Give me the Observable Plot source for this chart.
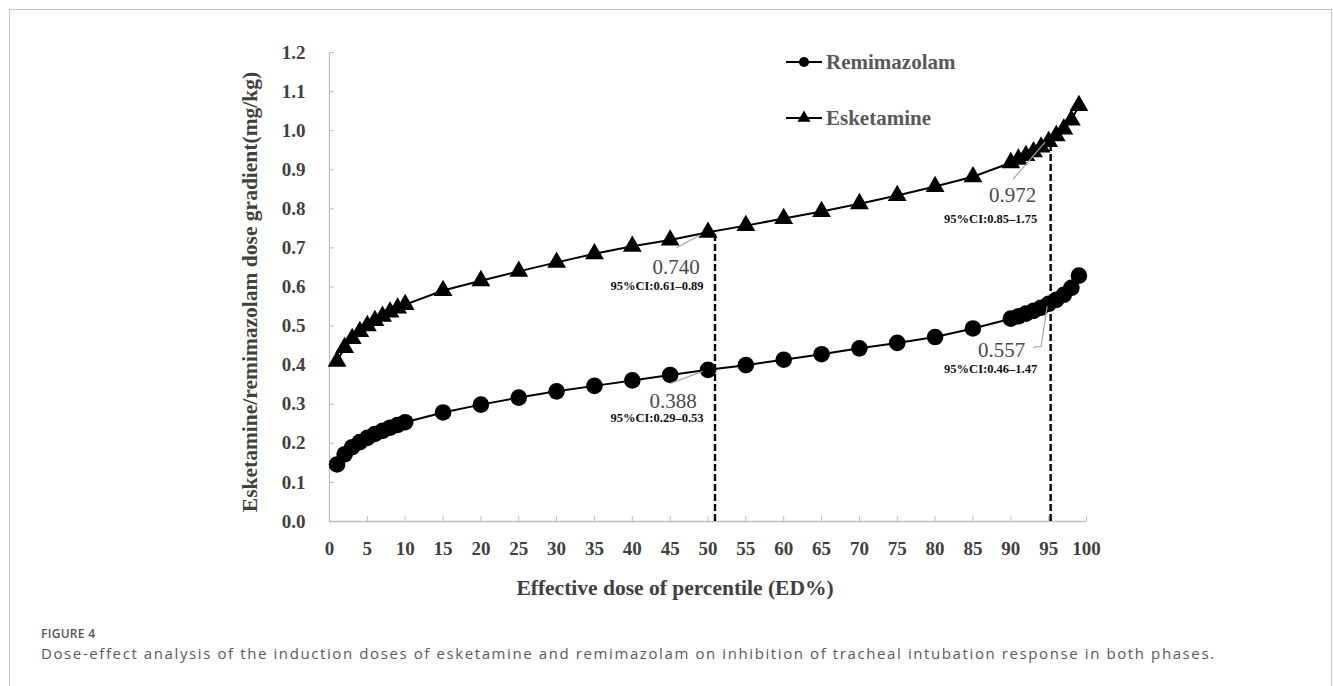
<!DOCTYPE html>
<html>
<head>
<meta charset="utf-8">
<script src="https://cdn.jsdelivr.net/npm/d3@7"></script>
<script src="https://cdn.jsdelivr.net/npm/@observablehq/plot@0.6"></script>
<style>
  html, body { margin: 0; background: #fff; }
  #page { position: relative; width: 1333px; height: 686px; overflow: hidden; }
  #frame { position: absolute; left: 9px; top: 9px; width: 1323px; height: 740px; box-sizing: border-box; border: 1px solid #c6c6c6; }
  #chart, #legend { position: absolute; left: 0; top: 0; }
  #caption { position: absolute; left: 41px; top: 625px; font-family: "Open Sans", sans-serif; color: #555; }
  #caption .fig { font-size: 12px; font-weight: 600; line-height: 18px; letter-spacing: 0.3px; }
  #caption .desc { font-size: 15px; line-height: 20px; letter-spacing: 1.6px; color: #5a5a5a; }
</style>
</head>
<body>
<div id="page">
  <div id="frame"></div>
  <div id="chart"></div>
  <svg id="legend" width="1333" height="160"></svg>
  <div id="caption">
    <div class="fig">FIGURE 4</div>
    <div class="desc">Dose-effect analysis of the induction doses of esketamine and remimazolam on inhibition of tracheal intubation response in both phases.</div>
  </div>
</div>
<script>
// Effective-dose percentiles (ED%) at which the probit curves are evaluated
const percentiles = [1, 2, 3, 4, 5, 6, 7, 8, 9, 10,
  15, 20, 25, 30, 35, 40, 45, 50, 55, 60, 65, 70, 75, 80, 85,
  90, 91, 92, 93, 94, 95, 96, 97, 98, 99];

// Dose gradient (mg/kg) for each percentile
const remimazolamDose = [0.146, 0.172, 0.190, 0.203, 0.214, 0.224, 0.232, 0.240, 0.247, 0.254,
  0.279, 0.299, 0.317, 0.333, 0.347, 0.361, 0.375, 0.388, 0.400, 0.414, 0.428, 0.443, 0.457, 0.472, 0.494,
  0.519, 0.525, 0.532, 0.539, 0.547, 0.557, 0.567, 0.580, 0.598, 0.629];
const esketamineDose = [0.410, 0.445, 0.468, 0.486, 0.501, 0.514, 0.525, 0.536, 0.546, 0.555,
  0.591, 0.616, 0.640, 0.663, 0.685, 0.704, 0.720, 0.740, 0.757, 0.775, 0.793, 0.813, 0.834, 0.857, 0.882,
  0.918, 0.927, 0.936, 0.946, 0.958, 0.972, 0.987, 1.004, 1.027, 1.064];

// Reported ED50 / ED95 with 95% confidence intervals
const edLevels = [50, 95];
const esketamineED = [0.740, 0.972];
const esketamineCILow = [0.61, 0.85];
const esketamineCIHigh = [0.89, 1.75];
const remimazolamED = [0.388, 0.557];
const remimazolamCILow = [0.29, 0.46];
const remimazolamCIHigh = [0.53, 1.47];

// Axis ticks and titles
const xTicks = d3.range(0, 101, 5);
const yTicks = d3.range(0, 13).map(i => i / 10);
const xTitle = "Effective dose of percentile (ED%)";
const yTitle = "Esketamine/remimazolam dose gradient(mg/kg)";
const seriesNames = ["Remimazolam", "Esketamine"];

// Tidy rows
const rows = [
  ...percentiles.map((p, i) => ({series: "Remimazolam", p, dose: remimazolamDose[i]})),
  ...percentiles.map((p, i) => ({series: "Esketamine", p, dose: esketamineDose[i]}))
];
const annotations = [
  ...edLevels.map((ed, i) => ({ed, value: esketamineED[i], lo: esketamineCILow[i], hi: esketamineCIHigh[i]})),
  ...edLevels.map((ed, i) => ({ed, value: remimazolamED[i], lo: remimazolamCILow[i], hi: remimazolamCIHigh[i]}))
];

// Pixel offsets of each annotation's value text, CI text and leader line
const annoLayout = [
  {v: [-32, 35], ci: [-51, 54], leader: [[-31, 16], [-7, 3]]},
  {v: [-36, 54], ci: [-58, 77], leader: [[-35, 38], [-3, 1]]},
  {v: [-35, 31], ci: [-51, 48], leader: [[-37, 14], [-5, 2]]},
  {v: [-47, 46], ci: [-58, 65], leader: [[-15, 44], [-7, 43], [-1, 3]]}
];
const ruleShift = [7, 2];

const axisGray = "#bfbfbf";
const textGray = "#404040";
const serif = "'Liberation Serif', 'Times New Roman', serif";

function leaderLines(index, scales) {
  const g = d3.create("svg:g")
    .attr("fill", "none").attr("stroke", "#a6a6a6").attr("stroke-width", 1.2);
  annotations.forEach((a, i) => {
    const px = scales.x(a.ed), py = scales.y(a.value);
    g.append("path").attr("d", d3.line()(annoLayout[i].leader.map(([dx, dy]) => [px + dx, py + dy])));
  });
  return g.node();
}

const chart = Plot.plot({
  width: 1333,
  height: 612,
  marginLeft: 329,
  marginRight: 247,
  marginTop: 52,
  marginBottom: 91,
  x: {domain: [0, 100], label: null},
  y: {domain: [0, 1.2], label: null},
  style: {fontFamily: serif, background: "transparent", overflow: "visible"},
  marks: [
    Plot.ruleY([0], {stroke: axisGray, strokeWidth: 1.3}),
    Plot.ruleX([0], {stroke: axisGray, strokeWidth: 1.3}),
    Plot.axisX({ticks: xTicks, tickSize: -5, tickPadding: 25, stroke: axisGray, fill: textGray,
      fontSize: 19, fontWeight: "bold", label: null, tickFormat: d => d}),
    Plot.axisY({ticks: yTicks, tickSize: -5, tickPadding: 29, stroke: axisGray, fill: textGray,
      fontSize: 19, fontWeight: "bold", label: null, tickFormat: d => d.toFixed(1)}),
    ...edLevels.map((ed, i) => Plot.ruleX([ed], {x: d => d, y1: 0, y2: esketamineED[i], dx: ruleShift[i],
      stroke: "#000", strokeWidth: 2.4, strokeDasharray: "7,3"})),
    Plot.line(rows, {x: "p", y: "dose", z: "series", stroke: "#000", strokeWidth: 2}),
    Plot.dot(rows.filter(d => d.series === "Remimazolam"), {x: "p", y: "dose", r: 8.3, fill: "#000", symbol: "circle"}),
    Plot.dot(rows.filter(d => d.series === "Esketamine"), {x: "p", y: "dose", r: 7, fill: "#000", symbol: "triangle"}),
    leaderLines,
    ...annotations.flatMap((a, i) => [
      Plot.text([a], {x: "ed", y: "value", text: d => d.value.toFixed(3), dx: annoLayout[i].v[0], dy: annoLayout[i].v[1],
        fontSize: 21, fill: "#4a4a4a", textAnchor: "middle"}),
      Plot.text([a], {x: "ed", y: "value", text: d => `95%CI:${d.lo.toFixed(2)}–${d.hi.toFixed(2)}`,
        dx: annoLayout[i].ci[0], dy: annoLayout[i].ci[1], fontSize: 12.5, fontWeight: "bold", fill: "#111", textAnchor: "middle"})
    ]),
    Plot.text([xTitle], {text: d => d, frameAnchor: "bottom", textAnchor: "middle", dx: -33, dy: 73,
      fontSize: 21.5, fontWeight: "bold", fill: textGray}),
    Plot.text([yTitle], {text: d => d, frameAnchor: "left", textAnchor: "middle", rotate: -90, dx: -79, dy: 5,
      fontSize: 21.5, fontWeight: "bold", fill: textGray})
  ]
});
document.getElementById("chart").appendChild(chart);

// Legend: line with marker, then series name
const legend = d3.select("#legend");
const legendItems = legend.selectAll("g").data(seriesNames).join("g")
  .attr("transform", (d, i) => `translate(786,${62 + i * 56})`);
legendItems.append("line").attr("x1", 0).attr("x2", 36).attr("stroke", "#000").attr("stroke-width", 2);
legendItems.append("path")
  .attr("transform", "translate(18,0)")
  .attr("d", (d, i) => d3.symbol(i === 0 ? d3.symbolCircle : d3.symbolTriangle, i === 0 ? 80 : 75)())
  .attr("fill", "#000");
legendItems.append("text").attr("x", 40).attr("dy", "0.35em")
  .attr("font-family", serif).attr("font-size", 21).attr("font-weight", "bold").attr("fill", "#595959")
  .text(d => d);
</script>
</body>
</html>
